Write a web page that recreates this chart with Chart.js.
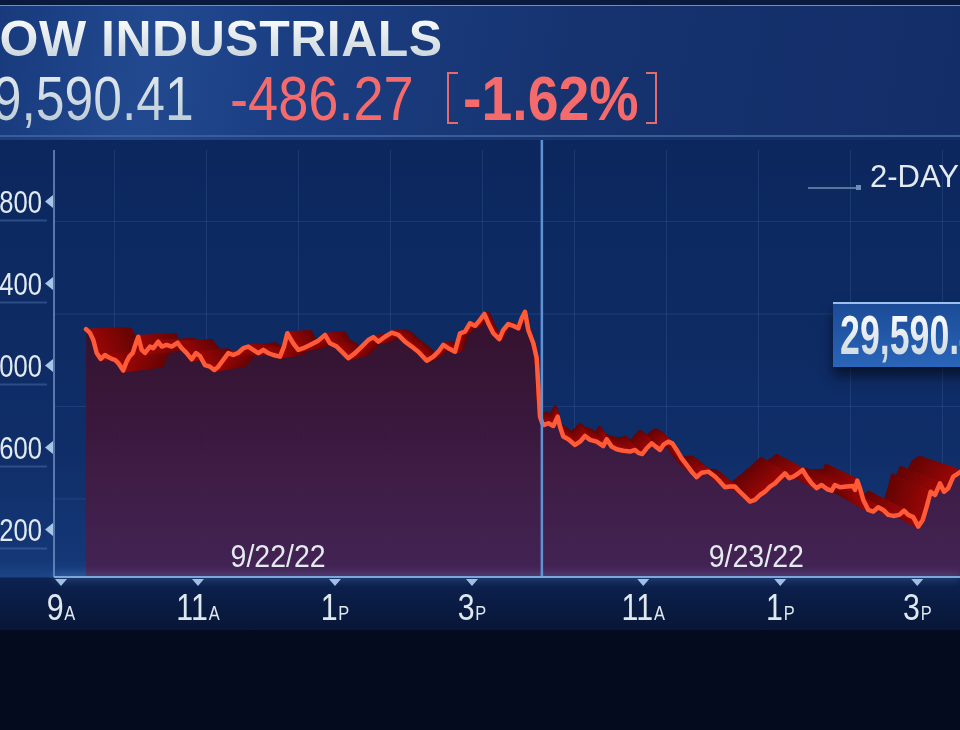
<!DOCTYPE html>
<html>
<head>
<meta charset="utf-8">
<script src="https://cdn.jsdelivr.net/npm/chart.js@4.4.1/dist/chart.umd.min.js"></script>
<style>
  html, body { margin: 0; padding: 0; }
  body { width: 960px; height: 730px; overflow: hidden; position: relative; background: #050b1f; font-family: "Liberation Sans", Arial, sans-serif; }
  #header { position: absolute; left: 0; top: 0; width: 960px; height: 140px;
    background: linear-gradient(100deg, #183a7d 0%, #22498f 16%, #1b3e83 30%, #16336f 60%, #132d68 100%); }
  #header .topbar { position: absolute; left: 0; top: 0; width: 960px; height: 5px; background: #0a1a3e; border-bottom: 1px solid #6f8fbf; }
  #header .botline { position: absolute; left: 0; top: 135px; width: 960px; height: 2px; background: #3b5d96; }
  #plotBg { position: absolute; left: 0; top: 140px; width: 960px; height: 490px;
    background: linear-gradient(180deg, #0c275e 0px, #0f2d67 300px, #143777 420px, #1b4585 437px, #0c2250 438px, #081637 490px); }
  #grid { position: absolute; left: 54px; top: 150px; width: 906px; height: 427px;
    background-image:
      linear-gradient(to right, rgba(120,160,225,0.14) 1px, transparent 1px),
      linear-gradient(to bottom, rgba(120,160,225,0.14) 1px, transparent 1px);
    background-size: 92px 100%, 100% 92.5px;
    background-position: 60px 0, 0 71px; }
  canvas { position: absolute; left: -60px; top: 0; }
  .txt { position: absolute; white-space: nowrap; line-height: 1; transform-origin: 0 0; }
  #title { left: -37px; top: 14px; font-size: 50px; font-weight: bold; letter-spacing: 0.5px;
    background: linear-gradient(#ffffff, #c3d0d8); -webkit-background-clip: text; background-clip: text; color: transparent; }
  #last { left: -36px; top: 67px; font-size: 63px; transform: scaleX(0.82);
    background: linear-gradient(#e6edf2, #b8c8d2); -webkit-background-clip: text; background-clip: text; color: transparent; }
  #chg { left: 230px; top: 67px; font-size: 63px; transform: scaleX(0.86); color: #f56a6a; }
  #pct { left: 463px; top: 67px; font-size: 63px; font-weight: bold; transform: scaleX(0.88); color: #f56a6a; }
  .brk { position: absolute; top: 72px; width: 9px; height: 48px; border: 2px solid #e56b6b; }
  #brkL { left: 447px; border-right: none; }
  #brkR { left: 646px; border-left: none; }
  #legLine { position: absolute; left: 808px; top: 187px; width: 50px; height: 2px; background: #55779f; }
  #legDot { position: absolute; left: 856px; top: 185px; width: 5px; height: 5px; background: #6f8fb5; }
  #legTxt { left: 870px; top: 161px; font-size: 31px; color: #e3eaf0; }
  #tag { position: absolute; left: 833px; top: 302px; width: 140px; height: 63px;
    background: linear-gradient(180deg, #1b4b96, #2a65b9); border-top: 2px solid #9cc0ee;
    box-shadow: 0 9px 12px rgba(0,0,0,0.55); overflow: hidden; }
  #tagTxt { left: 7px; top: 4px; font-size: 55px; font-weight: bold; transform: scaleX(0.65);
    background: linear-gradient(#ffffff, #c9d6de); -webkit-background-clip: text; background-clip: text; color: transparent; }
</style>
</head>
<body>
<div id="header"><div class="topbar"></div><div class="botline"></div></div>
<div id="plotBg"></div>
<div id="grid"></div>
<canvas id="chart" width="1020" height="730"></canvas>

<div id="title" class="txt">DOW INDUSTRIALS</div>
<div id="last" class="txt">29,590.41</div>
<div id="chg" class="txt">-486.27</div>
<div id="brkL" class="brk"></div>
<div id="pct" class="txt">-1.62%</div>
<div id="brkR" class="brk"></div>

<div id="legLine"></div><div id="legDot"></div>
<div id="legTxt" class="txt">2-DAY</div>
<div id="tag"><div id="tagTxt" class="txt">29,590.41</div></div>

<script>
/* ============================
   Datos (horas de sesión: 0 = 9:00 del 9/22, 7 = cierre 9/22 = apertura 9/23)
============================ */
const day1Hours = [
  0.365, 0.423, 0.472, 0.521, 0.580, 0.642, 0.690, 0.740, 0.788, 0.836,
  0.909, 0.959, 0.997, 1.047, 1.095, 1.128, 1.178, 1.226, 1.299, 1.347,
  1.420, 1.470, 1.543, 1.616, 1.704, 1.762, 1.835, 1.908, 1.971, 2.029,
  2.102, 2.175, 2.238, 2.296, 2.369, 2.442, 2.515, 2.588, 2.661, 2.734,
  2.807, 2.880, 2.953, 3.026, 3.099, 3.197, 3.255, 3.304, 3.391, 3.464,
  3.537, 3.635, 3.756, 3.854, 3.927, 4.025, 4.121, 4.194, 4.292, 4.390,
  4.486, 4.559, 4.632, 4.730, 4.828, 4.924, 5.022, 5.120, 5.216, 5.339,
  5.435, 5.508, 5.581, 5.654, 5.752, 5.825, 5.898, 5.971, 6.044, 6.117,
  6.180, 6.238, 6.311, 6.399, 6.457, 6.530, 6.603, 6.676, 6.726, 6.774,
  6.822, 6.895, 6.945, 6.968, 6.993
];
const day1Values = [
  30177, 30159, 30124, 30061, 30032, 30051, 30041, 30032, 30027, 30012,
  29975, 30019, 30043, 30061, 30110, 30140, 30076, 30061, 30092, 30084,
  30116, 30092, 30100, 30092, 30111, 30084, 30060, 30030, 30060, 30046,
  30002, 29994, 29978, 29994, 30027, 30060, 30051, 30062, 30084, 30092,
  30076, 30060, 30076, 30060, 30051, 30043, 30092, 30157, 30108, 30076,
  30084, 30100, 30121, 30149, 30108, 30092, 30060, 30035, 30060, 30092,
  30124, 30138, 30116, 30140, 30160, 30149, 30116, 30092, 30067, 30023,
  30043, 30067, 30100, 30084, 30067, 30157, 30165, 30206, 30193, 30222,
  30251, 30206, 30157, 30128, 30173, 30202, 30193, 30181, 30230, 30262,
  30173, 30108, 30035, 29897, 29750
];
const day2Hours = [
  7.026, 7.055, 7.114, 7.187, 7.251, 7.285, 7.333, 7.406, 7.504, 7.577,
  7.650, 7.723, 7.820, 7.917, 7.966, 8.039, 8.112, 8.209, 8.307, 8.380,
  8.438, 8.486, 8.550, 8.623, 8.682, 8.745, 8.793, 8.866, 8.924, 8.988,
  9.061, 9.134, 9.207, 9.280, 9.353, 9.450, 9.547, 9.620, 9.693, 9.766,
  9.839, 9.912, 9.985, 10.058, 10.131, 10.204, 10.277, 10.350, 10.423, 10.496,
  10.569, 10.632, 10.691, 10.764, 10.828, 10.886, 10.959, 11.032, 11.105, 11.187,
  11.251, 11.299, 11.372, 11.470, 11.566, 11.591, 11.625, 11.664, 11.712, 11.785,
  11.858, 11.931, 12.004, 12.077, 12.150, 12.238, 12.307, 12.369, 12.442, 12.515,
  12.580, 12.638, 12.696, 12.759, 12.832, 12.891, 12.953, 13.026, 13.099, 13.150,
  13.250, 13.380, 13.500
];
const day2Values = [
  29718, 29710, 29718, 29705, 29750, 29701, 29653, 29640, 29612, 29628,
  29656, 29637, 29628, 29607, 29640, 29604, 29591, 29584, 29580, 29588,
  29572, 29568, 29596, 29620, 29604, 29588, 29612, 29628, 29620, 29588,
  29547, 29515, 29482, 29455, 29477, 29482, 29458, 29433, 29406, 29409,
  29409, 29383, 29360, 29336, 29344, 29368, 29384, 29409, 29425, 29450,
  29474, 29450, 29458, 29474, 29490, 29458, 29425, 29401, 29417, 29396,
  29389, 29417, 29406, 29409, 29412, 29393, 29438, 29401, 29344, 29295,
  29287, 29308, 29295, 29271, 29266, 29271, 29292, 29271, 29260, 29214,
  29246, 29311, 29384, 29368, 29425, 29384, 29401, 29458, 29474, 29485,
  29525, 29560, 29590.41
];

const yTicks = [29200, 29600, 30000, 30400, 30800];
const xTicks = [0, 2, 4, 6, 8.5, 10.5, 12.5];
const xTickNum = ["9", "11", "1", "3", "11", "1", "3"];
const xTickAmPm = ["A", "A", "P", "P", "A", "P", "P"];
const dayLabels = ["9/22/22", "9/23/22"];
const dayLabelAt = [3.17, 10.15];
const sessionBreak = 7.02;

/* ============================
   Utils
============================ */
const toPoints = (hs, vs) => hs.map((h, i) => ({ x: h, y: vs[i] }));
const puntos = toPoints(day1Hours, day1Values).concat(toPoints(day2Hours, day2Values));
const FONT = '"Liberation Sans", Arial, sans-serif';

function areaFill(c) {
    const a = c.chart.chartArea;
    if (!a) return "#3c1632";
    const g = c.chart.ctx.createLinearGradient(0, a.top, 0, a.bottom);
    g.addColorStop(0, "rgba(66,16,42,0.97)");
    g.addColorStop(0.45, "rgba(56,18,46,0.95)");
    g.addColorStop(1, "rgba(72,34,82,0.92)");
    return g;
}

// texto condensado (escala horizontal)
function condText(ctx, txt, x, yBase, size, sc, align, color) {
    ctx.save();
    ctx.font = `${size}px ${FONT}`;
    const w = ctx.measureText(txt).width * sc;
    const x0 = align === "right" ? x - w : align === "center" ? x - w / 2 : x;
    ctx.translate(x0, yBase);
    ctx.scale(sc, 1);
    ctx.fillStyle = color;
    ctx.textAlign = "left";
    ctx.textBaseline = "alphabetic";
    ctx.fillText(txt, 0, 0);
    ctx.restore();
}

/* ============================
   Plugins
============================ */
// cinta roja en perspectiva detrás de la línea
const ribbonPlugin = {
    id: "ribbon",
    beforeDatasetDraw(chart, args) {
        if (args.index !== 1) return;
        const { ctx, chartArea: a } = chart;
        const vx = a.left + 476, vy = 320;
        const steps = 20;
        ctx.save();
        ctx.beginPath();
        ctx.rect(a.left, a.top, a.right - a.left, a.bottom - a.top);
        ctx.clip();
        for (let k = steps; k >= 0; k--) {
            const s = 1 - 0.095 * k / steps;
            ctx.save();
            ctx.filter = `brightness(${0.72 + 0.38 * (1 - k / steps)})`;
            ctx.translate(vx, vy);
            ctx.scale(s, s);
            ctx.translate(-vx, -vy);
            args.meta.controller.draw();
            ctx.restore();
        }
        ctx.restore();
        return false;
    }
};

const decorPlugin = {
    id: "decor",
    afterDatasetsDraw(chart) {
        const { ctx, chartArea: a, scales: { x, y } } = chart;
        ctx.save();

        // separador de días
        const sx = x.getPixelForValue(sessionBreak);
        ctx.strokeStyle = "#5e92d3";
        ctx.lineWidth = 2.5;
        ctx.beginPath(); ctx.moveTo(sx, 140); ctx.lineTo(sx, a.bottom); ctx.stroke();

        // eje y
        ctx.strokeStyle = "rgba(130,165,215,0.85)";
        ctx.lineWidth = 1.5;
        ctx.beginPath(); ctx.moveTo(a.left, a.top); ctx.lineTo(a.left, a.bottom); ctx.stroke();

        // eje x con brillo
        ctx.shadowColor = "rgba(120,170,240,0.9)";
        ctx.shadowBlur = 8;
        ctx.strokeStyle = "#7ba7dd";
        ctx.lineWidth = 2;
        ctx.beginPath(); ctx.moveTo(a.left, a.bottom); ctx.lineTo(a.right, a.bottom); ctx.stroke();
        ctx.shadowBlur = 0;

        // marcas y etiquetas del eje y
        yTicks.forEach((v) => {
            const py = y.getPixelForValue(v);
            ctx.fillStyle = "#a9c6e8";
            ctx.beginPath();
            ctx.moveTo(a.left - 9, py);
            ctx.lineTo(a.left - 1, py - 6.5);
            ctx.lineTo(a.left - 1, py + 6.5);
            ctx.closePath(); ctx.fill();
            ctx.strokeStyle = "rgba(100,140,205,0.35)";
            ctx.lineWidth = 2;
            ctx.beginPath(); ctx.moveTo(0, py + 19); ctx.lineTo(a.left - 7, py + 19); ctx.stroke();
            condText(ctx, v.toLocaleString("en-US"), a.left - 12, py + 11.5, 32, 0.8, "right", "#e2eaf0");
        });

        // marcas y etiquetas del eje x
        xTicks.forEach((h, i) => {
            const px = x.getPixelForValue(h);
            ctx.fillStyle = "#9fc0e6";
            ctx.beginPath();
            ctx.moveTo(px - 6, a.bottom + 2);
            ctx.lineTo(px + 6, a.bottom + 2);
            ctx.lineTo(px, a.bottom + 9);
            ctx.closePath(); ctx.fill();

            ctx.font = `37px ${FONT}`;
            const wBig = ctx.measureText(xTickNum[i]).width;
            ctx.font = `20px ${FONT}`;
            const wSmall = ctx.measureText(xTickAmPm[i]).width;
            const sc = 0.82;
            const x0 = px - (wBig + wSmall + 1) * sc / 2;
            condText(ctx, xTickNum[i], x0, 620, 37, sc, "left", "#dfe8ef");
            condText(ctx, xTickAmPm[i], x0 + (wBig + 1) * sc, 620, 20, sc, "left", "#dfe8ef");
        });

        // fechas
        dayLabels.forEach((t, i) => {
            condText(ctx, t, x.getPixelForValue(dayLabelAt[i]), 567, 31, 0.92, "center", "#e4ebf0");
        });

        ctx.restore();
    }
};

/* ============================
   Gráfica
============================ */
const ctx = document.getElementById("chart").getContext("2d");
new Chart(ctx, {
    type: "line",
    data: {
        datasets: [
            { label: "Dow", data: puntos, borderColor: "#ff5b38", borderWidth: 4.5, pointRadius: 0,
              borderJoinStyle: "round", borderCapStyle: "round", fill: false, order: 1 },
            { label: "cinta", data: puntos, borderColor: "#8c0606", borderWidth: 4, pointRadius: 0,
              borderJoinStyle: "round", fill: false, order: 2 },
            { label: "area", data: puntos, borderWidth: 0, borderColor: "transparent", pointRadius: 0,
              fill: "start", backgroundColor: areaFill, order: 3 }
        ]
    },
    options: {
        responsive: false,
        animation: false,
        events: [],
        layout: { padding: { left: 0, right: 0, top: 150, bottom: 153 } },
        plugins: { legend: { display: false }, tooltip: { enabled: false } },
        scales: {
            x: { type: "linear", display: false, min: -0.102, max: 13.124 },
            y: {
                type: "linear", min: 28968, max: 31051,
                grid: { display: false, drawTicks: false },
                border: { display: false },
                afterBuildTicks: (s) => { s.ticks = yTicks.map((v) => ({ value: v })); },
                afterFit: (s) => { s.width = 114; },
                ticks: { display: false }
            }
        }
    },
    plugins: [ribbonPlugin, decorPlugin]
});
</script>
</body>
</html>
